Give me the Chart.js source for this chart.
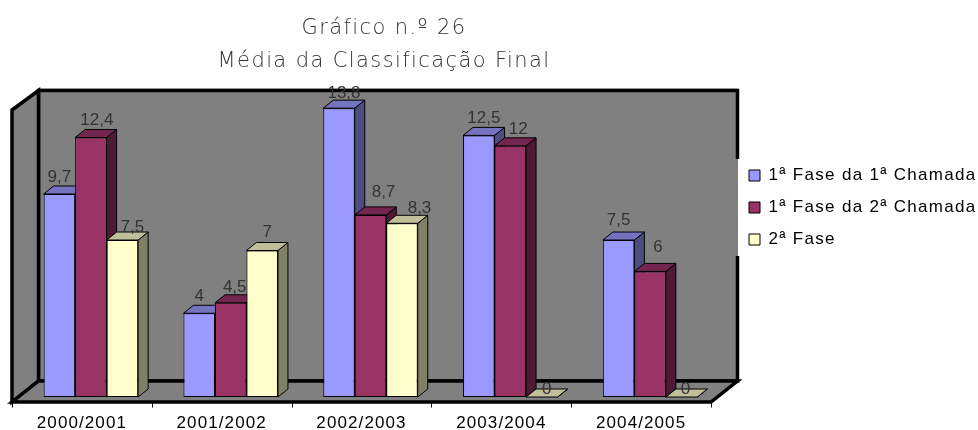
<!DOCTYPE html>
<html>
<head>
<meta charset="utf-8">
<style>html,body{margin:0;padding:0;background:#fff}#w{width:978px;height:430px}</style>
<script src="https://cdn.jsdelivr.net/npm/chart.js@4/dist/chart.umd.min.js"></script>
</head>
<body>
<div id="w"><canvas id="c" width="978" height="430"></canvas></div>
<script>
const categories = ['2000/2001','2001/2002','2002/2003','2003/2004','2004/2005'];
const fase1Chamada1 = [9.7,4,13.8,12.5,7.5];
const fase1Chamada2 = [12.4,4.5,8.7,12,6];
const fase2 = [7.5,7,8.3,0,0];
const titleLines = ['Gráfico n.º 26','Média da Classificação Final'];
const seriesNames = ['1ª Fase da 1ª Chamada','1ª Fase da 2ª Chamada','2ª Fase'];

const faces = [
  {front:'#9999FF',top:'#7373BF',side:'#4D4D80'},
  {front:'#993366',top:'#732650',side:'#4D1A33'},
  {front:'#FFFFCC',top:'#BFBF99',side:'#808066'}
];
const depth = {x:10,y:8};
// per-series, per-category placement of the value labels relative to each bar, as in the original
const labelNudge = [[0,0,5,5,0],[6,4,13,8,8],[10,5,17.5,5,4]];
const labelRaise = [[12,12,10,12.5,15.5],[12,11,17.5,12,19],[8,13,10.5,3,3]];

function poly(ctx,pts,fill,lw){
  ctx.beginPath();
  pts.forEach((p,i)=> i?ctx.lineTo(p[0],p[1]):ctx.moveTo(p[0],p[1]));
  ctx.closePath();
  if(fill){ctx.fillStyle=fill;ctx.fill();}
  ctx.lineWidth=lw;ctx.strokeStyle='#000';ctx.lineJoin='miter';ctx.stroke();
}
function spaced(obj,method,px){
  const orig=obj[method];
  obj[method]=function(...a){
    const ctx=this.ctx; ctx.save(); ctx.letterSpacing=px;
    orig.apply(this,a); ctx.restore();
  };
}

const box3d = {
  id:'box3d',
  afterLayout(chart){
    const t=chart.titleBlock; t.left=0; t.right=768;
    const l=chart.legend; l.left=734; l.right=978; l.top=152; l.bottom=300;
    if(!chart.$spaced){
      chart.$spaced=true;
      spaced(t,'draw','1.4px');
      spaced(l,'draw','1.3px');
      spaced(chart.scales.x,'drawLabels','1.1px');
    }
  },
  beforeDraw(chart){
    const {ctx,chartArea:a}=chart;
    const L=a.left-9,R=a.right-9,B=a.bottom+5,T=a.top+6;
    const dx=26.5,dy=21;
    ctx.save();
    ctx.fillStyle='#c8c8c8';ctx.fillRect(L+dx,88,R-L,1);
    poly(ctx,[[L+dx,T-dy+1.5],[R+dx,T-dy+1.5],[R+dx,B-dy],[L+dx,B-dy]],'#808080',3.5);
    poly(ctx,[[L,T],[L+dx,T-dy+1.5],[L+dx,B-dy],[L,B]],'#808080',3.5);
    poly(ctx,[[L,B],[L+dx,B-dy],[R+dx,B-dy],[R,B]],'#808080',3.5);
    ctx.fillStyle='#808080';ctx.fillRect(R+dx-2.5,159,3,97);
    ctx.fillStyle='#fff';ctx.fillRect(R+dx+0.5,159,4,97);
    const step=(a.right-a.left)/categories.length;
    ctx.lineWidth=1;ctx.strokeStyle='#000';
    for(let i=0;i<=categories.length;i++){
      const x=Math.round(L+i*step)+0.5;
      ctx.beginPath();ctx.moveTo(x,B);ctx.lineTo(x,B+5.5);ctx.stroke();
    }
    ctx.restore();
  },
  beforeDatasetsDraw(chart){
    const {ctx}=chart;
    ctx.save();
    chart.data.datasets.forEach((ds,i)=>{
      const f=faces[i];
      chart.getDatasetMeta(i).data.forEach(b=>{
        const l=b.x-b.width/2,r=b.x+b.width/2;
        poly(ctx,[[r,b.y],[r+depth.x,b.y-depth.y],[r+depth.x,b.base-depth.y],[r,b.base]],f.side,1);
        poly(ctx,[[l,b.y],[l+depth.x,b.y-depth.y],[r+depth.x,b.y-depth.y],[r,b.y]],f.top,1);
      });
    });
    ctx.restore();
  },
  afterDatasetsDraw(chart){
    const {ctx}=chart;
    ctx.save();
    ctx.font='17px "Liberation Sans"';
    ctx.fillStyle='#333';
    ctx.textAlign='center';ctx.textBaseline='alphabetic';
    chart.data.datasets.forEach((ds,i)=>{
      chart.getDatasetMeta(i).data.forEach((b,j)=>{
        ctx.fillText(String(ds.data[j]).replace('.',','),b.x+labelNudge[i][j],b.y-labelRaise[i][j]);
      });
    });
    ctx.restore();
  }
};

const mk=(i,data)=>({label:seriesNames[i],data,backgroundColor:faces[i].front,borderColor:'#000',borderWidth:1,borderSkipped:false,barPercentage:1,categoryPercentage:0.676});

new Chart(document.getElementById('c'),{
  type:'bar',
  data:{labels:categories,datasets:[mk(0,fase1Chamada1),mk(1,fase1Chamada2),mk(2,fase2)]},
  plugins:[box3d],
  options:{
    responsive:false,animation:false,
    layout:{padding:{left:21,right:258,top:12,bottom:0}},
    plugins:{
      tooltip:{enabled:false},
      title:{display:true,text:titleLines,color:'#333',align:'center',
        font:{family:'"DejaVu Sans"',size:21,weight:200,lineHeight:1.571},
        padding:{top:0,bottom:26}},
      legend:{position:'chartArea',align:'start',
        labels:{boxWidth:11,boxHeight:11,padding:15,color:'#000',
          font:{family:'"Liberation Sans"',size:17}}}
    },
    scales:{
      x:{grid:{display:false},border:{display:false},
        afterFit(s){s.height=33;},
        ticks:{color:'#000',maxRotation:0,autoSkip:false,labelOffset:-9,padding:8,
          font:{family:'"Liberation Sans"',size:17}}},
      y:{display:false,min:0,max:14}
    }
  }
});
</script>
</body>
</html>
